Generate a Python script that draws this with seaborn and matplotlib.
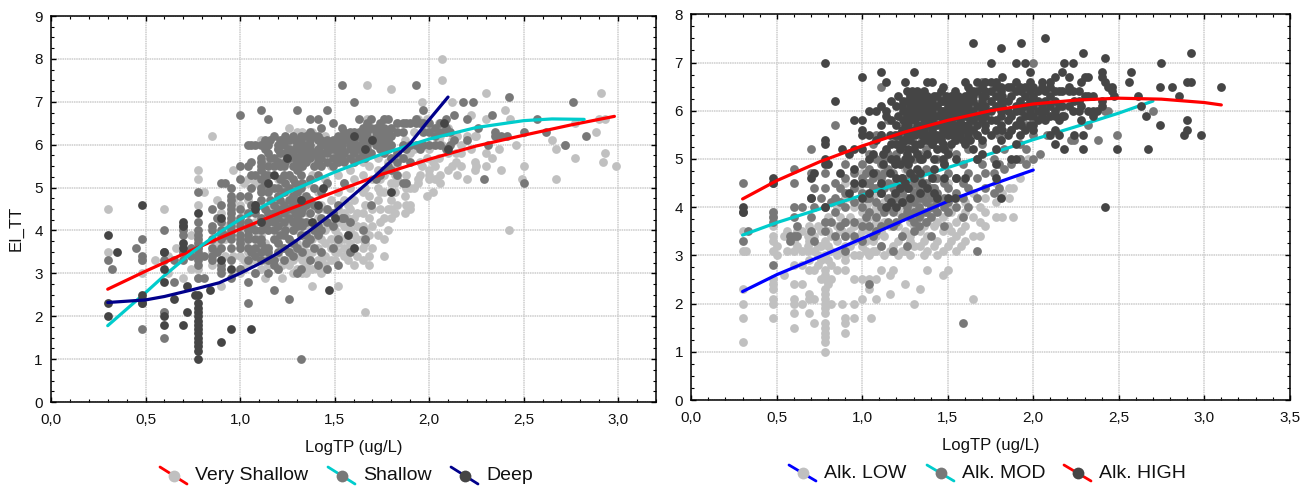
import matplotlib
matplotlib.use('Agg')
import matplotlib.pyplot as plt
from matplotlib.lines import Line2D
from matplotlib.ticker import MultipleLocator, FuncFormatter
import pandas as pd
import seaborn as sns

# every group is (LogTP, [EI_TT values read at that LogTP])
very_shallow = [
	(0.30, [4.5, 3.5]), (0.48, [3.0, 3.3]), (0.55, [3.3]), (0.60, [4.5, 3.5, 2.1]), (0.62, [3.0, 3.4]), (0.66, [3.6]),
	(0.70, [2.9, 3.5]), (0.74, [3.1, 3.9]),
	(0.78, [5.4, 5.2, 4.6, 2.9, 3.1, 3.6]), (0.81, [4.9]), (0.85, [6.2, 3.2, 3.5]), (0.88, [4.7, 3.7]),
	(0.90, [2.7, 3.3, 4.4]), (0.92, [3.4, 3.8, 4.1]), (0.96, [5.4, 3.0, 3.4, 4.7]), (1.00, [3.0, 3.4, 4.0, 4.6]),
	(1.02, [3.1, 3.3, 3.7, 4.4, 5.1]),
	(1.04, [3.2, 3.5, 4.1, 4.7, 5.2]), (1.08, [3.0, 3.3, 3.6, 4.2, 5.1]), (1.11, [3.1, 3.4, 3.9, 4.6, 5.0, 6.1]),
	(1.13, [2.9, 3.3, 3.7, 4.3, 5.3]), (1.15, [3.2, 3.6, 4.1, 4.5, 5.6]), (1.20, [3.1, 3.4, 3.7, 4.0, 4.8, 5.2, 5.9]),
	(1.22, [2.9, 3.2, 3.6, 4.2, 5.0, 5.7]), (1.26, [3.2, 3.3, 3.5, 3.8, 4.1, 4.3, 4.9, 5.3, 6.0, 6.4]),
	(1.28, [3.0, 3.3, 3.6, 4.0, 5.6]), (1.30, [3.1, 3.4, 3.7, 4.0, 4.4, 5.0, 5.7, 6.3]),
	(1.33, [3.0, 3.3, 3.6, 3.9, 4.2, 4.5, 4.8, 5.5, 6.3]), (1.35, [3.0, 3.2, 3.5, 3.8]), (1.36, [3.1, 3.4, 3.7, 4.1, 4.4, 5.1, 6.0]),
	(1.38, [2.7, 3.1, 3.5, 3.8, 4.0, 4.6, 5.3, 6.3]), (1.41, [3.1, 3.3, 3.6, 3.9, 4.3, 4.9, 5.6]),
	(1.43, [3.0, 3.3, 3.5, 3.8, 4.6]), (1.45, [3.2, 3.4, 3.7, 4.0, 4.2, 4.5, 5.2, 6.2]), (1.48, [3.3, 3.6, 3.8, 4.1, 4.4, 4.7, 5.5, 5.9]),
	(1.50, [3.3, 3.5, 3.8, 4.0, 4.4]), (1.52, [2.7, 3.5, 3.7, 3.9, 4.2, 4.5, 4.9, 5.3, 5.8]), (1.55, [3.4, 3.6, 3.8, 4.1, 4.4, 4.7, 5.1]),
	(1.57, [3.3, 3.6, 3.9, 4.3, 4.6]), (1.58, [3.5, 3.7, 4.0, 4.2, 4.5, 5.0, 5.4, 6.0]), (1.60, [3.2, 3.6, 3.9, 4.3, 4.7, 5.2]),
	(1.62, [3.4, 3.8, 4.1, 4.4]), (1.65, [3.3, 3.6, 3.8, 4.1, 4.4, 4.9, 5.3, 5.6]), (1.66, [2.1, 3.7, 4.0, 4.6, 5.0]),
	(1.67, [7.4, 6.6, 5.8]), (1.68, [3.2, 3.4, 3.9, 4.3, 4.8, 5.5]), (1.70, [3.6, 4.1, 4.5, 5.2, 6.1]),
	(1.73, [3.9, 4.7, 5.0, 5.4, 5.7, 6.4]), (1.74, [4.2, 4.5, 4.9, 5.2]), (1.76, [3.4, 3.8, 4.3, 4.9, 5.3, 5.9, 6.6]),
	(1.78, [4.0, 4.5, 5.6, 6.2]), (1.80, [7.3, 4.3, 4.5, 4.7, 5.1, 6.0]), (1.82, [4.4, 4.9, 5.1, 5.3]), (1.83, [4.6, 5.2, 5.5, 6.5]),
	(1.87, [4.4, 4.8, 5.7, 6.1]), (1.88, [4.6, 5.0, 5.3]), (1.90, [4.5, 4.6, 5.0, 5.8]), (1.92, [5.0, 5.9, 6.3]), (1.94, [5.1, 5.2, 6.6]),
	(1.95, [5.3, 5.6]), (1.96, [7.0, 5.5, 6.0]), (1.99, [4.8, 5.7, 6.4, 6.6]), (2.00, [5.2, 5.3, 5.4, 5.9]), (2.02, [4.9, 5.6, 6.3]),
	(2.03, [5.2, 5.5]), (2.05, [5.7, 6.1, 6.5]), (2.06, [5.1, 5.3, 6.2]), (2.07, [8.0, 7.5, 6.0]), (2.10, [5.4, 5.8, 6.4]),
	(2.12, [7.0, 5.5, 6.1]), (2.14, [5.6, 5.8]), (2.15, [5.3, 6.2]), (2.17, [5.5, 5.8, 6.0]), (2.20, [5.2, 6.2]), (2.22, [6.7, 5.9]),
	(2.24, [5.4, 5.6, 6.2]), (2.25, [5.5, 6.2]), (2.30, [7.2, 6.6, 5.8, 5.5]), (2.33, [5.7]), (2.37, [5.9]),
	(2.38, [5.4]), (2.40, [6.8]), (2.42, [4.0]), (2.43, [6.6]), (2.46, [6.0]), (2.49, [5.2]), (2.50, [5.5]),
	(2.65, [6.1]), (2.67, [5.9, 5.2]), (2.72, [6.0]), (2.77, [6.5, 5.7]), (2.88, [6.3]), (2.90, [6.6]),
	(2.91, [7.2]), (2.92, [5.6]), (2.93, [6.6, 5.8]), (2.99, [5.5]),
]
shallow = [
	(0.30, [3.3]), (0.32, [3.1]), (0.45, [3.6]), (0.48, [1.7, 2.3, 3.3, 3.4, 3.8]), (0.60, [1.5, 2.1, 3.3, 3.5, 4.0]),
	(0.65, [2.8, 3.3]), (0.70, [3.3, 3.5, 3.9, 4.0, 4.1]), (0.74, [3.4, 3.6]), (0.78, [2.9, 3.2, 3.3, 3.4, 3.5, 3.6, 3.7, 3.8, 3.9, 4.0, 4.2, 4.9]),
	(0.81, [2.9, 3.4]), (0.85, [3.3, 3.4, 3.6, 3.8, 4.0, 4.1, 4.5]), (0.88, [3.5, 4.3]), (0.90, [3.0, 3.1, 3.2, 3.6, 3.8, 3.9, 4.0, 4.2, 4.6, 5.1]),
	(0.92, [3.9, 5.1]), (0.95, [2.9, 3.3, 3.6, 3.8, 3.9, 4.0, 4.1, 4.2, 4.3, 4.4, 4.5, 4.6, 4.7, 4.8, 5.0]),
	(1.00, [3.1, 3.6, 3.7, 3.8, 3.9, 4.1, 4.2, 4.3, 4.5, 4.8, 5.2, 5.5, 6.7]),
	(1.04, [2.3, 2.8, 3.3, 3.6, 3.8, 3.9, 4.0, 4.2, 4.4, 4.8, 5.5, 6.0]), (1.06, [3.5, 4.1, 4.6, 5.0, 5.3, 5.6, 6.0]),
	(1.08, [3.0, 3.4, 3.6, 3.8, 4.0, 4.4, 4.6, 5.3, 6.0]),
	(1.11, [3.3, 3.5, 3.7, 3.8, 4.0, 4.3, 4.7, 4.9, 5.0, 5.2, 5.4, 5.5, 5.6, 5.7, 6.0, 6.8]),
	(1.13, [3.6, 4.1, 4.5, 5.1, 5.3, 5.9, 6.1]), (1.15, [3.0, 3.3, 3.5, 3.6, 4.0, 4.2, 4.4, 4.9, 5.3, 5.5, 5.8, 6.0, 6.6]),
	(1.16, [4.3, 4.7, 5.0, 5.7, 6.1]), (1.18, [2.6, 3.2, 3.3, 3.8, 4.0, 4.2, 4.4, 4.6, 5.0, 5.5, 5.7, 6.2]),
	(1.20, [3.1, 3.5, 3.7, 4.1, 4.3, 4.5, 4.8, 5.0, 5.6, 5.9, 6.0]), (1.21, [3.9, 4.7, 5.2, 5.5, 5.8, 6.1]),
	(1.23, [3.3, 3.6, 3.9, 4.2, 4.4, 4.6, 4.9, 5.3, 5.5, 6.0, 6.1]), (1.24, [4.0, 4.5, 5.1, 5.6, 5.8, 6.2]),
	(1.26, [2.4, 3.5, 3.8, 4.3, 4.5, 4.7, 5.0, 5.3, 5.7, 5.9, 6.1]),
	(1.28, [3.4, 3.7, 4.0, 4.2, 4.6, 4.8, 5.2, 5.5, 5.8, 6.2]), (1.29, [4.4, 4.7, 5.1, 5.7, 5.9, 6.1]),
	(1.30, [3.0, 3.6, 4.1, 4.3, 4.5, 4.9, 5.4, 5.6, 5.7, 6.0, 6.8]),
	(1.32, [1.0, 3.1, 3.9, 4.2, 4.4, 4.7, 5.0, 5.3, 5.8, 5.9, 6.1, 6.2]), (1.33, [3.5, 4.1, 4.5, 5.1, 5.5, 5.7, 6.0]),
	(1.35, [3.7, 3.9, 4.2, 4.6, 4.8, 5.6, 5.8, 5.9, 6.0, 6.2]),
	(1.37, [3.3, 3.8, 4.4, 4.7, 5.2, 5.7, 5.9, 6.0, 6.1, 6.3, 6.6]), (1.39, [3.6, 4.0, 4.6, 5.0, 5.5, 5.8, 6.2]),
	(1.41, [3.2, 3.9, 4.1, 4.5, 5.3, 5.6, 5.7, 5.8, 5.9, 6.1, 6.2, 6.6]),
	(1.43, [3.5, 4.0, 4.3, 4.9, 5.5, 5.7, 5.8, 6.0, 6.1, 6.4]),
	(1.46, [3.1, 4.2, 4.5, 5.1, 5.6, 5.8, 5.9, 6.0, 6.1, 6.8]),
	(1.49, [3.6, 4.1, 4.4, 5.5, 5.7, 5.9, 6.0, 6.1, 6.5]),
	(1.52, [3.2, 3.8, 4.6, 5.6, 5.7, 5.8, 6.0, 6.1, 6.2]),
	(1.54, [7.4, 4.3, 5.7, 5.9, 6.0, 6.2, 6.4]), (1.55, [4.3, 5.1, 5.6, 5.8, 6.1, 6.3]),
	(1.58, [3.5, 4.2, 5.7, 5.9, 6.0, 6.1, 6.2, 6.3]), (1.60, [7.0, 5.6, 5.8, 6.0, 6.1, 6.3]),
	(1.63, [6.6, 5.7, 5.9, 6.0, 6.2, 6.3]), (1.65, [4.0, 5.8, 6.0, 6.1, 6.3, 6.4]), (1.66, [3.8, 5.7, 6.1, 6.4]),
	(1.67, [6.5, 5.9, 6.0, 6.2, 6.3]), (1.69, [4.6, 5.8, 6.1, 6.4, 6.6]), (1.72, [5.2, 6.0, 6.2, 6.3, 6.4]),
	(1.74, [5.3, 5.9, 6.1, 6.3, 6.5]), (1.76, [5.4, 5.8, 6.0, 6.2, 6.4, 6.6]), (1.78, [5.5, 5.9, 6.1, 6.3, 6.6]),
	(1.80, [5.4, 5.7, 6.0, 6.2, 6.4]), (1.83, [5.3, 5.6, 5.8, 6.3, 6.5]), (1.86, [5.1, 5.7, 6.0, 6.3, 6.5]),
	(1.88, [5.1, 5.9, 6.5]), (1.90, [5.6, 6.0, 6.5]), (1.93, [7.4, 6.0, 6.5, 6.6]), (1.95, [5.9, 6.0, 6.5]),
	(1.97, [6.8, 6.0, 6.3, 6.5]), (2.00, [6.0, 6.3, 6.5]), (2.03, [6.2, 6.4, 6.0]), (2.06, [6.0, 6.3, 6.5]),
	(2.09, [5.9, 6.3, 6.4, 6.6]), (2.11, [6.0, 6.3]), (2.13, [6.7, 6.1]), (2.18, [7.0]), (2.20, [6.6, 6.1]),
	(2.23, [7.0]), (2.26, [6.4]), (2.29, [5.2]), (2.31, [6.0]), (2.33, [6.7]), (2.35, [6.3, 6.2]), (2.38, [6.2]),
	(2.41, [6.2]), (2.42, [7.1]), (2.50, [6.3, 5.1]), (2.57, [6.6]), (2.62, [6.3]), (2.72, [6.0]), (2.76, [7.0]),
	(2.83, [6.2]),
]
deep = [
	(0.30, [2.0, 2.3, 3.9]), (0.35, [3.5]), (0.48, [2.3, 2.4, 2.5, 4.6]), (0.60, [1.8, 2.0, 2.8, 3.1, 3.5]),
	(0.65, [2.4]), (0.70, [1.8, 3.6, 3.7, 4.1, 4.2]), (0.72, [2.1, 2.7]),
	(0.78, [1.0, 1.2, 1.3, 1.4, 1.5, 1.6, 1.7, 1.8, 1.9, 2.0, 2.1, 2.2, 2.3, 2.5, 4.4]), (0.76, [2.5]),
	(0.84, [2.6]), (0.90, [1.4, 3.3, 4.3]), (0.95, [1.7, 3.1]), (1.06, [1.7]), (1.08, [4.5, 4.6]), (1.11, [4.2]),
	(1.15, [5.1]), (1.18, [5.3]), (1.25, [5.7]), (1.32, [4.7]), (1.38, [4.2]), (1.41, [4.6]), (1.44, [5.0]),
	(1.47, [2.6]), (1.50, [4.3]), (1.57, [3.9]), (1.60, [6.2, 3.6]), (1.66, [5.9]), (1.70, [6.1]), (1.80, [4.9]),
	(2.08, [6.5]), (2.10, [5.9]),
]
very_shallow_line_x = [0.30, 0.50, 0.75, 1.00, 1.25, 1.50, 1.75, 2.00, 2.25, 2.50, 2.75, 2.98]
very_shallow_line_y = [2.63, 3.05, 3.55, 4.03, 4.48, 4.90, 5.31, 5.66, 5.97, 6.22, 6.46, 6.66]
shallow_line_x = [0.30, 0.50, 0.60, 0.75, 0.90, 1.00, 1.25, 1.50, 1.75, 2.00, 2.25, 2.50, 2.65, 2.82]
shallow_line_y = [1.78, 2.55, 2.95, 3.50, 3.98, 4.26, 4.88, 5.36, 5.78, 6.13, 6.40, 6.56, 6.60, 6.59]
deep_line_x = [0.30, 0.50, 0.60, 0.75, 0.89, 1.00, 1.10, 1.20, 1.30, 1.40, 1.50, 1.69, 1.90, 2.00, 2.10]
deep_line_y = [2.32, 2.38, 2.46, 2.62, 2.78, 3.00, 3.22, 3.47, 3.77, 4.10, 4.44, 5.17, 6.03, 6.58, 7.11]

alk_low = [
	(0.30, [1.2, 1.7, 2.0, 2.3, 3.1, 3.5]), (0.32, [3.1]), (0.48, [1.7, 2.0, 2.1, 2.3, 2.4, 2.5, 3.1, 3.3, 3.4, 3.6, 3.8, 3.9]),
	(0.50, [3.0, 3.2]), (0.54, [2.6, 3.4]), (0.56, [3.5, 3.1]), (0.60, [1.5, 1.8, 2.0, 2.1, 2.4, 2.8, 3.1, 3.3]), (0.62, [3.2, 3.5]),
	(0.65, [2.0, 2.4, 2.8, 3.1, 3.5]), (0.68, [3.1, 3.4, 3.2]),
	(0.69, [1.8, 2.1, 2.2, 2.7, 2.9, 3.3, 3.6]), (0.72, [1.6, 2.1, 2.7, 3.1, 3.4]), (0.74, [2.8, 3.0, 3.2, 3.6]), (0.76, [2.5, 2.9, 3.2, 3.5]),
	(0.78, [1.0, 1.2, 1.3, 1.4, 1.5, 1.6, 1.8, 1.9, 2.0, 2.1, 2.2, 2.3, 2.5, 2.6, 2.7, 3.0, 3.3, 3.7]),
	(0.80, [2.4, 2.9, 3.2, 3.5, 3.8]), (0.82, [2.0, 2.5, 2.8, 3.1, 3.4]), (0.85, [2.7, 3.0, 3.3, 3.6, 4.0]), (0.87, [3.1, 3.5, 3.8, 4.1]), (0.88, [2.0, 3.5]),
	(0.90, [1.4, 1.6, 1.7, 2.7, 2.9, 3.0, 3.2, 3.4, 3.7, 4.2, 4.5]), (0.93, [3.2, 3.5, 3.8, 4.2]), (0.95, [1.7, 2.0, 2.5, 3.0, 3.3, 3.6, 4.0, 4.4]),
	(0.98, [3.0, 3.4, 3.7, 4.1, 4.4]), (1.00, [2.1, 2.5, 3.2, 3.5, 3.9, 4.3, 4.7]), (1.02, [3.1, 3.3, 3.7, 4.0]), (1.04, [2.3, 2.5, 3.0, 3.5, 3.8, 4.1, 4.5]), (1.05, [1.7]),
	(1.06, [3.1, 3.3, 3.6, 3.9, 4.2]), (1.08, [2.1, 2.5, 3.1, 3.4, 3.7, 4.0, 4.3]), (1.11, [2.7, 3.2, 3.5, 3.9, 4.4, 4.7]), (1.13, [3.0, 3.4, 3.7, 4.1]),
	(1.16, [2.2, 2.6, 3.1, 3.6, 4.2]), (1.18, [2.7, 3.2, 3.6, 4.0, 4.5]), (1.21, [3.0, 3.3, 3.6, 3.9, 4.1]), (1.23, [3.1, 3.4, 3.8, 4.3]), (1.25, [2.4, 3.1, 3.5, 4.0, 4.8]),
	(1.28, [3.0, 3.3, 3.4, 3.7, 4.0]), (1.30, [2.0, 3.2, 3.6, 3.9, 4.3]), (1.34, [2.3, 3.2, 3.5, 3.8, 4.1, 4.6]), (1.36, [3.0, 3.3, 3.6, 3.9]), (1.38, [2.7, 3.1, 3.4, 3.7, 4.2]),
	(1.42, [3.2, 3.6, 3.9, 4.4]), (1.44, [3.0, 3.3, 3.7]), (1.47, [2.6, 3.1, 3.5, 3.8, 4.1]), (1.50, [2.7, 3.2, 3.6, 4.0, 4.5]), (1.52, [3.3, 3.5, 3.9]),
	(1.55, [3.1, 3.4, 3.7, 4.2]), (1.58, [3.2, 3.5, 3.8]), (1.60, [3.3, 3.6, 3.9, 4.1]), (1.65, [2.1, 3.4, 3.8, 4.3]), (1.69, [3.4, 3.7, 4.0]),
	(1.72, [3.6, 3.9, 4.2]), (1.78, [3.8, 4.1, 4.5]), (1.82, [3.8, 4.3]), (1.86, [4.4, 4.2]), (1.88, [3.8, 4.4]),
	(1.92, [5.0, 4.6]), (1.97, [5.0]),
]
alk_mod = [
	(0.30, [3.3, 3.9, 4.5]), (0.33, [3.5]), (0.48, [2.8, 3.7, 3.8, 3.9, 4.5]), (0.58, [3.3, 3.4]),
	(0.60, [3.4, 3.8, 4.0, 4.5, 4.8]), (0.62, [3.6, 3.4]), (0.65, [4.0]), (0.70, [3.5, 3.8, 4.2, 4.7, 5.2]), (0.72, [4.0, 4.4, 3.3]), (0.76, [4.2]),
	(0.78, [3.5, 3.7, 4.0, 4.4, 4.7]), (0.82, [4.1, 3.7]),
	(0.84, [3.4, 3.9, 4.2, 5.7, 4.5]), (0.87, [3.6, 4.4, 4.1]), (0.90, [3.1, 3.4, 3.7, 4.0, 4.3, 4.6, 4.9]), (0.95, [3.4, 3.7, 4.1, 4.4, 4.7]),
	(1.00, [3.3, 3.6, 4.0, 4.3, 4.6, 4.9]), (1.02, [3.8, 4.2, 4.5, 4.7]), (1.04, [2.4, 3.6, 3.9, 4.2, 4.5, 4.8, 5.1]), (1.06, [3.4, 4.4, 4.6, 5.3]),
	(1.08, [3.5, 3.8, 4.1, 4.4, 4.7, 5.0, 5.5]), (1.11, [3.2, 3.6, 4.0, 4.3, 4.6, 4.9, 5.5, 6.5]), (1.13, [3.9, 4.4, 4.7, 5.0]),
	(1.15, [3.7, 4.0, 4.2, 4.5, 4.8, 5.1, 5.8]), (1.18, [3.1, 3.6, 3.9, 4.2, 4.4, 4.7, 5.0]), (1.20, [3.7, 4.2, 4.5, 5.1, 5.4]),
	(1.23, [3.4, 3.8, 4.1, 4.3, 4.6, 4.9, 5.2]), (1.26, [3.2, 3.9, 4.0, 4.2, 4.4, 4.6, 4.8, 5.4]), (1.28, [3.8, 4.1, 4.4, 4.6, 5.5]),
	(1.30, [3.5, 3.7, 3.9, 4.1, 4.3, 4.5, 4.7, 5.0]), (1.33, [3.6, 3.8, 4.0, 4.2, 4.4, 4.6, 5.1, 5.6]), (1.35, [3.9, 4.2, 4.5, 5.4]),
	(1.37, [3.7, 3.9, 4.1, 4.3, 4.5, 4.8, 5.2]), (1.40, [3.4, 3.8, 4.0, 4.2, 4.4, 4.7, 5.3]), (1.42, [4.0, 4.4, 4.6, 5.5]),
	(1.44, [3.9, 4.1, 4.3, 4.6, 5.0]), (1.48, [3.6, 4.0, 4.2, 4.5, 4.9, 5.5]), (1.50, [3.9, 4.1, 4.4, 4.7, 5.2]),
	(1.55, [4.0, 4.3, 4.6, 5.1, 5.4]), (1.59, [1.6, 3.8, 4.2, 4.5, 4.9]), (1.62, [4.0, 4.4, 4.7, 5.2]),
	(1.67, [3.1, 4.2, 4.6, 5.0, 5.5]), (1.70, [4.9, 5.3, 6.6]), (1.72, [4.4, 4.7]), (1.77, [4.3, 4.7, 5.0]),
	(1.80, [4.4, 4.9, 5.5]), (1.83, [4.8, 5.2]), (1.87, [4.9, 5.6]), (1.92, [5.0, 5.3]), (1.96, [4.9, 5.2, 5.7]),
	(2.00, [5.0, 5.5, 7.0]), (2.04, [5.1]), (2.08, [5.5]), (2.22, [5.4]), (2.24, [5.4]), (2.32, [5.7]), (2.38, [5.4]),
	(2.42, [6.0]), (2.44, [6.0]), (2.49, [5.5]), (2.70, [6.0]),
]
alk_high = [
	(0.30, [3.9, 4.0]), (0.48, [4.5, 4.6]), (0.70, [4.2, 4.6]), (0.72, [4.7]), (0.78, [4.0, 4.9, 5.0, 5.3, 5.4, 7.0]),
	(0.80, [4.9]), (0.84, [6.2]), (0.87, [4.7]), (0.88, [5.2]), (0.92, [4.3, 5.1]), (0.95, [4.5, 4.8, 5.2, 5.8]),
	(1.00, [4.2, 4.5, 5.2, 5.5, 5.6, 5.8, 6.7]), (1.04, [4.3, 5.0, 5.5, 6.0]), (1.06, [4.7, 5.1]), (1.08, [6.0, 5.4]),
	(1.11, [4.3, 4.5, 5.7, 5.5, 6.1, 6.8]), (1.12, [5.1, 4.9]), (1.14, [4.0, 5.2, 6.0, 6.6, 5.9]), (1.16, [4.7, 5.5]), (1.17, [4.1, 5.0, 5.3, 5.8, 6.2]),
	(1.19, [4.3, 4.9, 5.5]), (1.20, [4.0, 4.6, 5.0, 5.3, 5.7, 6.1]), (1.21, [5.5, 5.9, 6.3]), (1.22, [4.4, 4.9, 5.2]), (1.23, [4.1, 4.6, 5.3, 5.6, 6.1]),
	(1.24, [5.4, 5.8, 6.0, 6.2]), (1.25, [4.5, 5.0, 5.4, 5.7, 6.0, 6.6]), (1.26, [5.1, 5.5, 5.9, 6.2, 6.4]), (1.27, [4.4, 4.9, 5.2, 5.6, 5.7, 6.0]),
	(1.28, [4.2, 4.7, 5.0, 5.4, 5.8, 6.1, 6.3]), (1.29, [5.5, 5.9, 6.0, 6.2, 6.4]), (1.30, [4.6, 5.2, 5.6, 5.9, 6.2, 6.8]), (1.31, [5.3, 5.5, 5.8, 6.1]),
	(1.32, [4.8, 5.1, 5.7, 6.0, 6.3, 6.4]), (1.33, [5.6, 5.9, 6.2]), (1.34, [4.3, 4.7, 5.0, 5.3]), (1.35, [4.5, 5.0, 5.5, 5.7, 5.9, 6.1, 6.2]),
	(1.36, [5.4, 5.6, 5.8, 6.0, 6.3, 6.4]), (1.38, [4.4, 5.1, 5.4, 5.8, 6.0, 6.1, 6.3, 6.6]), (1.39, [5.5, 5.7, 5.9, 6.2]),
	(1.41, [4.6, 5.3, 5.6, 5.8, 6.0, 6.2, 6.6]), (1.42, [4.3, 4.8, 5.0, 5.4, 5.7, 5.9, 6.1, 6.3]),
	(1.44, [4.2, 5.2, 5.5, 5.7, 5.9, 6.1, 6.3]), (1.46, [5.4, 5.5, 5.7, 5.9, 6.0, 6.2, 6.4]), (1.47, [5.0, 5.3, 5.6, 5.8, 6.0, 6.2, 6.5]),
	(1.48, [4.6, 4.9, 5.2]), (1.49, [5.6, 5.8, 6.0, 6.3]), (1.50, [4.2, 5.1, 5.5, 5.7, 5.9, 6.1, 6.2]), (1.52, [5.3, 5.6, 5.8, 6.0, 6.1, 6.3]),
	(1.53, [5.5, 5.7, 5.9, 6.1, 6.3]), (1.54, [4.2, 5.4, 5.7, 5.9, 6.0, 6.2, 6.4]), (1.55, [4.6, 5.0]), (1.56, [5.6, 5.9, 6.1, 6.3]), (1.57, [5.5, 5.7, 5.8, 6.0, 6.1, 6.2]),
	(1.59, [5.4, 5.7, 6.0, 6.2]), (1.60, [4.6, 5.3, 5.6, 5.9, 6.0, 6.1, 6.2, 6.3, 6.6]), (1.62, [5.5, 5.7, 5.9, 6.1, 6.3, 6.5]), (1.63, [5.4, 5.6, 5.8, 6.0, 6.2, 6.4]),
	(1.65, [5.2, 5.6, 5.8, 6.0, 6.2, 6.3, 6.4, 7.4]), (1.67, [5.0, 5.5, 5.7, 5.9, 6.1, 6.4, 6.6]),
	(1.70, [5.1, 5.4, 5.8, 6.0, 6.1, 6.2, 6.3, 6.5]), (1.72, [5.6, 5.7, 5.9, 6.1, 6.3, 6.4, 6.6]),
	(1.75, [5.5, 5.8, 6.0, 6.2, 6.4, 6.6, 7.0]), (1.78, [4.6, 4.9, 5.2, 5.6, 5.8, 6.1, 6.3, 6.5, 6.6]),
	(1.81, [4.2, 5.4, 5.7, 5.9, 6.0, 6.2, 6.4, 6.5, 7.3]), (1.82, [5.6, 6.1, 6.3, 6.7]), (1.85, [5.5, 5.8, 6.0, 6.2, 6.5]),
	(1.87, [5.0, 5.6, 5.9, 6.3, 6.5]), (1.90, [5.0, 5.3, 5.7, 6.0, 6.1, 6.4, 6.6, 7.0]), (1.92, [5.5, 5.8, 6.2, 6.5]),
	(1.93, [5.7, 6.0, 6.4, 7.4]), (1.95, [5.6, 5.9, 6.1, 6.3, 6.5, 7.0]), (1.98, [5.7, 5.9, 6.0, 6.2, 6.4, 6.8, 6.6]),
	(2.00, [5.6, 5.7, 5.9, 6.1, 6.3, 6.5]), (2.03, [5.8, 6.0, 6.2, 6.4]), (2.05, [5.9, 6.1, 6.5, 6.6]),
	(2.07, [5.8, 6.0, 6.2, 6.4, 7.5]), (2.10, [5.5, 5.9, 6.1, 6.3, 6.5, 6.6]), (2.13, [5.3, 5.6, 5.9, 6.0, 6.2, 6.4, 6.7]),
	(2.15, [5.5, 5.8, 6.1, 6.4]), (2.17, [5.9, 6.1, 6.4, 6.8]), (2.18, [5.2, 5.9, 7.0]), (2.21, [6.1, 6.4, 6.7, 6.5]),
	(2.23, [6.0, 6.4, 7.0]), (2.24, [5.5, 6.2]), (2.27, [6.0, 6.4, 6.2]), (2.28, [5.8, 6.6, 6.1]), (2.29, [5.2, 5.5, 7.2]),
	(2.30, [6.7, 6.3]), (2.32, [6.0, 6.3, 6.7]), (2.35, [5.9, 6.0, 6.3]), (2.37, [6.0]), (2.40, [6.1, 6.2, 6.8, 6.7]),
	(2.42, [4.0, 6.6, 7.1]), (2.44, [6.5]), (2.46, [6.5, 6.4]), (2.47, [6.3]), (2.49, [5.2]), (2.56, [6.6]),
	(2.57, [6.8]), (2.61, [6.3]), (2.63, [6.1]), (2.66, [5.9]), (2.67, [5.2]), (2.74, [6.5, 5.7]), (2.75, [7.0]),
	(2.81, [6.5]), (2.85, [6.3]), (2.88, [5.5]), (2.90, [5.8, 5.6, 6.6]), (2.92, [7.2, 6.6]), (2.98, [5.5]), (3.10, [6.5]),
]
alk_low_line_x = [0.30, 0.50, 0.75, 1.00, 1.25, 1.50, 1.75, 2.00]
alk_low_line_y = [2.25, 2.60, 2.97, 3.35, 3.74, 4.12, 4.46, 4.77]
alk_mod_line_x = [0.30, 0.50, 0.75, 1.00, 1.25, 1.50, 1.70, 2.00, 2.25, 2.50, 2.70]
alk_mod_line_y = [3.42, 3.68, 3.96, 4.25, 4.53, 4.82, 5.05, 5.40, 5.67, 5.95, 6.20]
alk_high_line_x = [0.30, 0.50, 0.75, 1.00, 1.25, 1.50, 1.75, 2.00, 2.25, 2.50, 2.75, 3.00, 3.10]
alk_high_line_y = [4.17, 4.55, 4.94, 5.27, 5.56, 5.80, 6.00, 6.14, 6.22, 6.26, 6.24, 6.17, 6.12]

LIGHT = '#c0c0c0'
MID = '#787878'
DARK = '#454545'
RED = '#ff0000'
CYAN = '#00cccc'
NAVY = '#00008b'
BLUE = '#0000ff'
TEXT = '#111111'
W, H = 1309, 490


def to_frame(groups):
	rows = [(x, y) for x, ys in groups for y in ys]
	return pd.DataFrame(rows, columns=['LogTP', 'EI_TT'])


def draw_panel(ax, series, xmax, ymax):
	# first two curves lie under the dark points only, the third one is on top of all
	for i, (groups, color, line_x, line_y, line_color) in enumerate(series):
		point_z = 6 if i == 2 else 3 + i
		line_z = 7 if i == 2 else 5 + i * 0.1
		sns.scatterplot(data=to_frame(groups), x='LogTP', y='EI_TT', color=color, s=40, linewidth=0, ax=ax, zorder=point_z)
		sns.lineplot(x=line_x, y=line_y, color=line_color, lw=2.3, sort=False, estimator=None, ax=ax, zorder=line_z)

	ax.set_xlim(0, xmax)
	ax.set_ylim(0, ymax)
	ax.xaxis.set_major_locator(MultipleLocator(0.5))
	ax.xaxis.set_minor_locator(MultipleLocator(0.1))
	ax.yaxis.set_major_locator(MultipleLocator(1))
	ax.yaxis.set_minor_locator(MultipleLocator(0.25))
	ax.xaxis.set_major_formatter(FuncFormatter(lambda v, p: f'{v:.1f}'.replace('.', ',')))
	ax.yaxis.set_major_formatter(FuncFormatter(lambda v, p: f'{v:.0f}'))
	ax.tick_params(which='major', direction='in', length=3.5, width=1, bottom=True, left=True, top=True, right=True, labelsize=11, color='black', labelcolor=TEXT)
	ax.tick_params(which='minor', direction='in', length=2, width=0.8, bottom=True, left=True, top=True, right=True, color='black')
	ax.tick_params(axis='x', which='major', pad=8)
	ax.tick_params(axis='y', which='major', pad=6)
	ax.grid(True, which='major', color='#cdcdcd', lw=1.1, ls=(0, (1, 0.5)), zorder=0)
	ax.grid(False, which='minor')
	ax.set_axisbelow(True)
	for spine in ax.spines.values():
		spine.set_visible(True)
		spine.set_color('black')
		spine.set_linewidth(1.1)
		spine.set_zorder(20)
	ax.set_xlabel('LogTP (ug/L)', fontsize=12, labelpad=9, color=TEXT)
	ax.set_ylabel('')


def legend_entry(fig, x0, x1, y0, y1, color, marker_color, label):
	fig.add_artist(Line2D([x0 / W, x1 / W], [1 - y0 / H, 1 - y1 / H], color=color, lw=2, transform=fig.transFigure))
	fig.add_artist(Line2D([(x0 + x1) / 2 / W], [1 - (y0 + y1) / 2 / H], marker='o', ms=8.5, mfc=marker_color, mew=0, ls='', transform=fig.transFigure))
	fig.text((x1 + 8) / W, 1 - (y0 + y1) / 2 / H, label, fontsize=14, va='center', ha='left', color=TEXT)


sns.set_style('white')
plt.rcParams['font.family'] = ['Liberation Sans', 'DejaVu Sans']

fig = plt.figure(figsize=(W / 100, H / 100), dpi=100)
ax1 = fig.add_axes([51 / W, 1 - 402 / H, 605 / W, 386 / H])
ax2 = fig.add_axes([691.3 / W, 1 - 400 / H, 598.4 / W, 385.7 / H])

draw_panel(ax1, [
	(very_shallow, LIGHT, very_shallow_line_x, very_shallow_line_y, RED),
	(shallow, MID, shallow_line_x, shallow_line_y, CYAN),
	(deep, DARK, deep_line_x, deep_line_y, NAVY),
], 3.2, 9)
draw_panel(ax2, [
	(alk_low, LIGHT, alk_low_line_x, alk_low_line_y, BLUE),
	(alk_mod, MID, alk_mod_line_x, alk_mod_line_y, CYAN),
	(alk_high, DARK, alk_high_line_x, alk_high_line_y, RED),
], 3.5, 8)
ax1.set_ylabel('EI_TT', fontsize=12, color=TEXT)
ax1.yaxis.set_label_coords(-0.045, 0.45)

legend_entry(fig, 160, 187, 467, 484, RED, LIGHT, 'Very Shallow')
legend_entry(fig, 328, 355, 467, 484, CYAN, MID, 'Shallow')
legend_entry(fig, 451, 478, 467, 484, NAVY, DARK, 'Deep')
legend_entry(fig, 789, 816, 465, 481, BLUE, LIGHT, 'Alk. LOW')
legend_entry(fig, 927, 954, 465, 481, CYAN, MID, 'Alk. MOD')
legend_entry(fig, 1064, 1091, 465, 481, RED, DARK, 'Alk. HIGH')

plt.savefig('out.png', dpi=100)
